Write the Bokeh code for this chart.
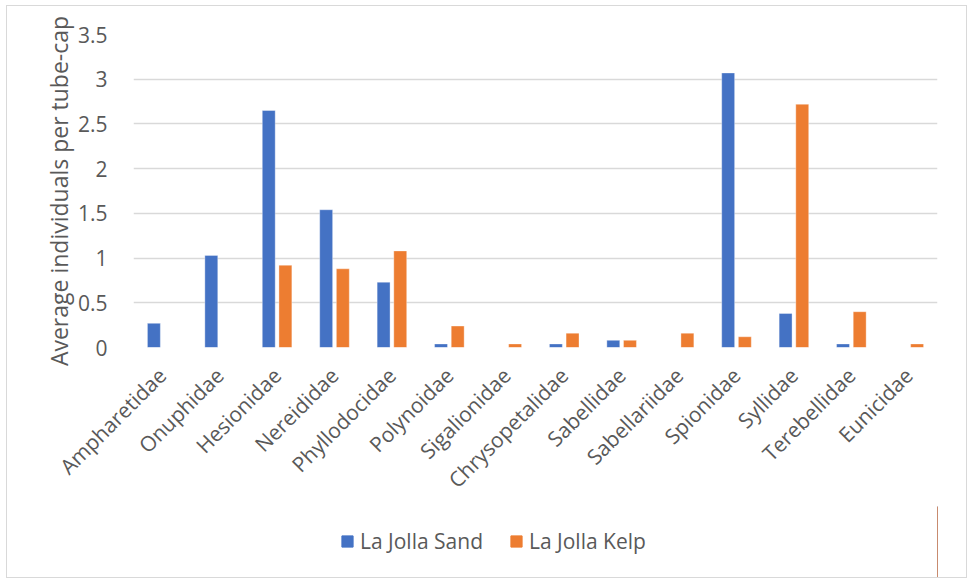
import math
from bokeh.plotting import figure
from bokeh.layouts import column
from bokeh.models import ColumnDataSource, FactorRange, Legend, LegendItem, Range1d
from bokeh.transform import dodge
from bokeh.embed import file_html
from bokeh.resources import INLINE

families = ["Ampharetidae", "Onuphidae", "Hesionidae", "Nereididae", "Phyllodocidae",
            "Polynoidae", "Sigalionidae", "Chrysopetalidae", "Sabellidae", "Sabellariidae",
            "Spionidae", "Syllidae", "Terebellidae", "Eunicidae"]
sand = [0.27, 1.03, 2.65, 1.54, 0.73, 0.04, 0.0, 0.04, 0.08, 0.0, 3.07, 0.38, 0.04, 0.0]
kelp = [0.0, 0.0, 0.92, 0.88, 1.08, 0.24, 0.04, 0.16, 0.08, 0.16, 0.12, 2.72, 0.40, 0.04]
y_ticks = [0, 0.5, 1, 1.5, 2, 2.5, 3, 3.5]
series_names = ["La Jolla Sand", "La Jolla Kelp"]
colors = ["#4472C4", "#ED7D31"]

src = ColumnDataSource(dict(fam=families, sand=sand, kelp=kelp))

FONT = "Open Sans"
TXT = "#595959"

p = figure(x_range=FactorRange(*families), y_range=(0, 3.5),
           width=959, height=500, output_backend="svg", toolbar_location=None,
           min_border_left=126, min_border_right=29, min_border_top=28, min_border_bottom=151)
p.outline_line_color = None
p.background_fill_color = "white"
p.border_fill_color = "white"

p.vbar(x=dodge("fam", -0.145, range=p.x_range), top="sand", width=0.225, source=src,
       fill_color=colors[0], line_color="white", line_alpha=0.35, line_width=1)
p.vbar(x=dodge("fam", 0.145, range=p.x_range), top="kelp", width=0.225, source=src,
       fill_color=colors[1], line_color="white", line_alpha=0.35, line_width=1)

p.xgrid.grid_line_color = None
p.ygrid.grid_line_color = "#D9D9D9"
p.ygrid.grid_line_width = 1.5
p.yaxis.ticker = y_ticks
p.yaxis.major_label_overrides = {0: "0", 0.5: "0.5", 1: "1", 1.5: "1.5", 2: "2", 2.5: "2.5", 3: "3", 3.5: "3.5"}

for ax in (p.xaxis[0], p.yaxis[0]):
    ax.axis_line_color = None
    ax.major_tick_line_color = None
    ax.minor_tick_line_color = None
    ax.major_label_text_font = FONT
    ax.major_label_text_color = TXT
    ax.major_label_text_font_size = "21px"

p.yaxis.major_label_standoff = 20
p.yaxis.axis_label = "Average individuals per tube-cap"
p.yaxis.axis_label_text_font = FONT
p.yaxis.axis_label_text_color = TXT
p.yaxis.axis_label_text_font_size = "23px"
p.yaxis.axis_label_text_font_style = "normal"
p.yaxis.axis_label_standoff = 0

p.xaxis.major_label_orientation = math.pi / 4
p.xaxis.major_label_standoff = 18

# legend strip
pl = figure(width=959, height=71, output_backend="svg", toolbar_location=None,
            x_range=Range1d(0, 1), y_range=Range1d(0, 1),
            x_axis_type=None, y_axis_type=None,
            min_border_left=0, min_border_right=0, min_border_top=0, min_border_bottom=0)
pl.outline_line_color = None
pl.xgrid.grid_line_color = None
pl.ygrid.grid_line_color = None
pl.background_fill_color = "white"
pl.border_fill_color = "white"
offscreen = ColumnDataSource(dict(x=[10], top=[10]))
items = []
for name, col in zip(series_names, colors):
    rr = pl.vbar(x="x", top="top", width=0.1, source=offscreen, fill_color=col, line_color=col)
    items.append(LegendItem(label=name, renderers=[rr]))

legend = Legend(items=items, orientation="horizontal", location=(207, 22))
legend.label_text_font = FONT
legend.label_text_color = TXT
legend.label_text_font_size = "21px"
legend.glyph_width = 14
legend.glyph_height = 14
legend.spacing = 26
legend.label_standoff = 6
legend.padding = 0
legend.margin = 0
legend.border_line_color = None
legend.background_fill_alpha = 0
pl.add_layout(legend, "center")

layout = column(p, pl, spacing=0)
layout.margin = (5, 0, 0, 6)
layout.styles = {"border": "1px solid #D9D9D9"}

open("out.html", "w").write(file_html(layout, INLINE))
